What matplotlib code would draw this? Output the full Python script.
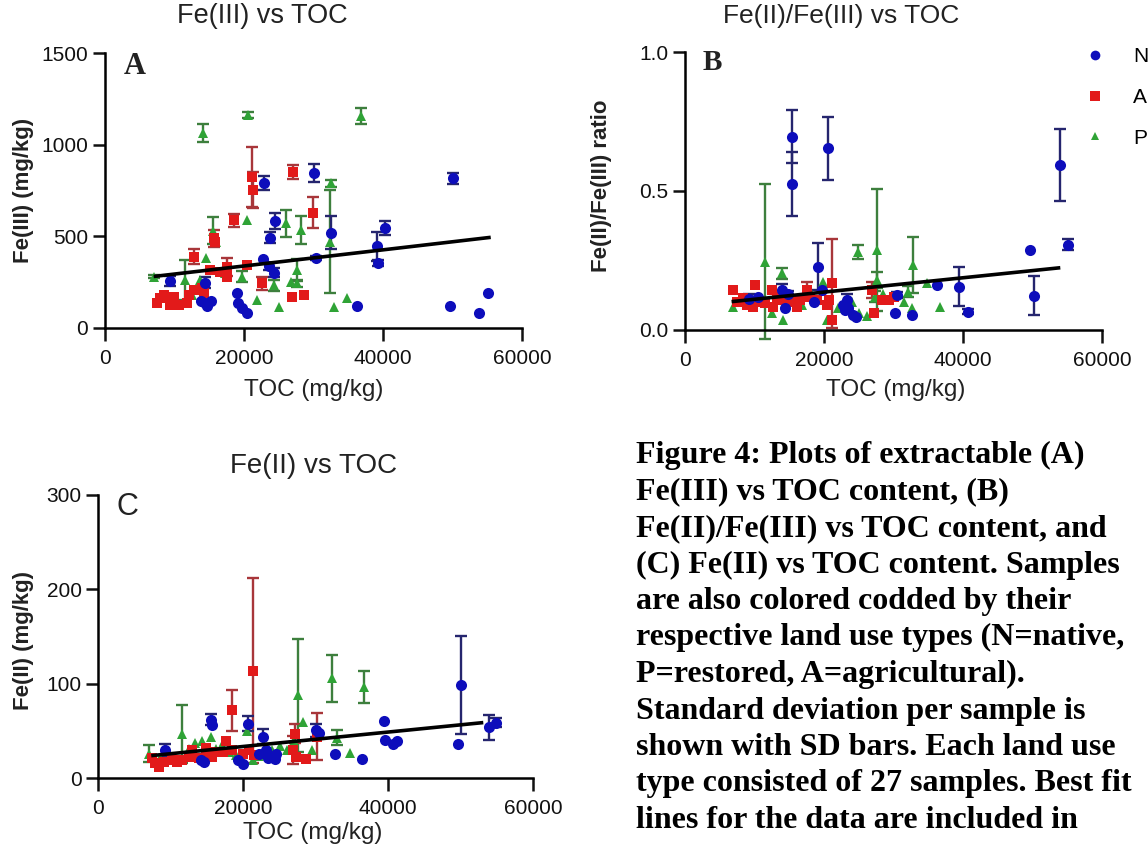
import numpy as np
import matplotlib
matplotlib.use("Agg")
import matplotlib.pyplot as plt
from matplotlib.lines import Line2D
from matplotlib.ticker import FormatStrFormatter

plt.rcParams['font.family'] = ['Liberation Sans', 'DejaVu Sans']

# ---------------- data ----------------
# Panel A : Fe(III) (mg/kg) vs TOC
A_N_toc = [9330, 14400, 13870, 14400, 15200, 14670, 18930, 19200, 19730, 20430, 22930, 23730, 24430, 22670,
           23630, 24270, 30130, 30400, 32530, 36260, 39200, 39300, 40270, 50130, 49600, 53860, 55090]
A_N_val = [255, 245, 145, 136, 145, 118, 191, 136, 109, 82, 791, 491, 582, 373,
           336, 300, 845, 382, 518, 118, 445, 355, 545, 818, 118, 82, 191]
A_N_sd = [25, 30, 0, 0, 0, 0, 0, 0, 0, 0, 40, 30, 45, 0,
          20, 25, 50, 10, 90, 0, 80, 15, 40, 30, 0, 0, 0]

A_A_toc = [7460, 8420, 9860, 10590, 12030, 12750, 12750, 15640, 15880, 15160, 17570, 17570, 18530, 20460,
           21180, 21330, 22630, 26960, 28630, 27100, 29990, 13960, 9390, 11800, 14200, 16600, 7900]
A_A_val = [133, 179, 170, 124, 179, 206, 388, 488, 470, 315, 333, 279, 588, 343,
           825, 752, 243, 170, 179, 852, 628, 215, 124, 133, 188, 306, 160]
A_A_sd = [0, 0, 0, 0, 0, 0, 40, 45, 0, 0, 50, 0, 35, 0,
          164, 100, 35, 0, 0, 40, 85, 0, 0, 0, 0, 0, 0]

A_P_toc = [6980, 11550, 11800, 14030, 14590, 15600, 20460, 20530, 25990, 28160, 32490, 32400, 19740, 21900,
           25030, 32970, 26710, 27680, 27680, 24300, 13720, 34830, 36800, 16000, 12500, 17200, 14200]
A_P_val = [279, 261, 152, 1064, 379, 530, 588, 1163, 570, 534, 789, 470, 279, 151,
           115, 115, 251, 315, 243, 233, 261, 164, 1158, 470, 180, 300, 200]
A_P_sd = [10, 110, 0, 50, 0, 75, 0, 15, 75, 75, 20, 282, 30, 0,
          0, 0, 0, 60, 20, 30, 0, 0, 45, 0, 0, 0, 0]

A_fit_x = [7000, 55500]
A_fit_y = [280, 494]

# Panel B : Fe(II)/Fe(III) ratio vs TOC
B_N_toc = [15440, 15350, 20530, 19090, 39400, 40780, 53960, 49640, 55060, 50260, 36300, 30460, 30220, 32620,
           23270, 23510, 24220, 23030, 9200, 14390, 13910, 19670, 24600, 22700, 10500, 14800, 18500]
B_N_val = [0.695, 0.525, 0.653, 0.228, 0.156, 0.066, 0.594, 0.288, 0.306, 0.123, 0.162, 0.126, 0.060, 0.054,
           0.108, 0.078, 0.054, 0.072, 0.110, 0.078, 0.144, 0.144, 0.045, 0.090, 0.120, 0.130, 0.100]
B_N_sd = [0.095, 0.115, 0.113, 0.085, 0.07, 0.01, 0.13, 0, 0.02, 0.07, 0, 0.01, 0, 0,
          0.02, 0, 0, 0, 0.02, 0, 0.02, 0, 0, 0, 0, 0.01, 0]

B_A_toc = [6950, 7430, 8400, 9840, 10130, 10560, 12490, 12730, 13210, 15130, 16090, 17530, 18010, 18970,
           20410, 21130, 21130, 20650, 26890, 27130, 28330, 29290, 30000, 11530, 13930, 8880, 16570]
B_A_val = [0.144, 0.102, 0.114, 0.084, 0.162, 0.102, 0.144, 0.084, 0.120, 0.102, 0.084, 0.144, 0.120, 0.108,
           0.090, 0.168, 0.036, 0.108, 0.144, 0.060, 0.108, 0.108, 0.120, 0.096, 0.108, 0.090, 0.108]
B_A_sd = [0, 0, 0, 0, 0, 0, 0, 0, 0, 0, 0, 0.03, 0, 0,
          0, 0.16, 0, 0, 0.03, 0, 0, 0, 0, 0, 0, 0, 0]

B_P_toc = [11510, 24850, 27580, 32860, 32140, 34780, 36700, 32620, 27580, 14150, 20390, 13910, 6950, 26140,
           19860, 11400, 27400, 15000, 22000, 25000, 16800, 9500, 31500, 18000, 12500, 28500, 24000]
B_P_val = [0.246, 0.282, 0.288, 0.234, 0.138, 0.168, 0.082, 0.078, 0.180, 0.036, 0.036, 0.204, 0.084, 0.050,
           0.174, 0.100, 0.120, 0.120, 0.080, 0.060, 0.090, 0.100, 0.100, 0.140, 0.060, 0.130, 0.100]
B_P_sd = [0.28, 0.025, 0.22, 0.10, 0.02, 0, 0, 0, 0.03, 0, 0, 0.02, 0, 0,
          0, 0, 0.02, 0, 0, 0, 0, 0, 0, 0, 0, 0, 0]

B_fit_x = [6700, 54000]
B_fit_y = [0.102, 0.224]

# Panel C : Fe(II) (mg/kg) vs TOC
C_N_toc = [9260, 15510, 15650, 14120, 14580, 19220, 19920, 20610, 22690, 23150, 23850, 24540, 30090, 32610,
           36350, 39420, 39530, 40650, 41160, 50020, 49670, 53860, 54890, 22120, 23400, 24420, 30500]
C_N_val = [30, 62, 56, 19, 17.5, 19, 15, 58, 44, 30, 23, 26, 51, 26,
           20, 61, 41, 36, 40, 99, 36, 54, 59, 26, 22, 20, 48]
C_N_sd = [6, 6, 0, 0, 0, 0, 0, 8, 8, 0, 0, 0, 7, 0,
          0, 0, 0, 0, 0, 52, 0, 13, 5, 0, 0, 0, 0]

C_A_toc = [21300, 18430, 7870, 7410, 10190, 10890, 12500, 12970, 14820, 16200, 17600, 17140, 20830, 21530,
           27080, 26860, 27320, 28710, 30100, 15750, 13890, 11580, 9030, 8400, 19920, 14820, 18450]
C_A_val = [114, 72, 16, 21, 19, 17.5, 23, 30, 26, 28, 39, 28, 30, 25,
           47, 30, 23, 20, 44, 23, 21, 19, 17.5, 12, 26, 32, 30]
C_A_sd = [98, 22, 0, 0, 0, 0, 0, 0, 0, 0, 0, 0, 0, 0,
          10, 15, 0, 0, 25, 0, 0, 0, 0, 0, 0, 0, 0]

C_P_toc = [6940, 11580, 27550, 28240, 32200, 36710, 32870, 34660, 15510, 14350, 13400, 12500, 16200, 22220,
           21300, 25000, 26000, 27000, 18000, 20500, 10000, 19000, 24000, 8500, 17000, 29500, 23000]
C_P_val = [26, 47, 88, 60, 106, 97, 43, 27, 44, 40, 37, 31, 31, 24,
           19, 34, 30, 40, 28, 50, 22, 25, 30, 22, 35, 30, 28]
C_P_sd = [9, 31, 60, 0, 25, 17, 8, 0, 0, 0, 0, 0, 0, 0,
          0, 0, 0, 0, 0, 0, 0, 0, 0, 0, 0, 0, 0]

C_fit_x = [7300, 53100]
C_fit_y = [24, 59]

caption_lines = [
    "Figure 4: Plots of extractable (A)",
    "Fe(III) vs TOC content, (B)",
    "Fe(II)/Fe(III) vs TOC content, and",
    "(C) Fe(II) vs TOC content. Samples",
    "are also colored codded by their",
    "respective land use types (N=native,",
    "P=restored, A=agricultural).",
    "Standard deviation per sample is",
    "shown with SD bars. Each land use",
    "type consisted of 27 samples. Best fit",
    "lines for the data are included in",
]

# ---------------- style ----------------
W, H = 1148, 852
fig = plt.figure(figsize=(W / 100, H / 100), dpi=100)


def rect(l, r, t, b):
    return [l / W, 1 - b / H, (r - l) / W, (b - t) / H]


def fx(x):
    return x / W


def fy(y):
    return 1 - y / H


COL = {'N': '#0d0dbb', 'A': '#e21a1a', 'P': '#2fa336'}
ECOL = {'N': '#25256e', 'A': '#a8363a', 'P': '#3d7f3d'}
MRK = {'N': ('o', 8.0), 'A': ('s', 7.5), 'P': ('^', 6.5)}


def draw(ax, key, xs, ys, es):
    xs, ys, es = np.asarray(xs, float), np.asarray(ys, float), np.asarray(es, float)
    m = es > 0
    ax.errorbar(xs[m], ys[m], yerr=es[m], fmt='none', ecolor=ECOL[key], elinewidth=1.7,
                capsize=4, capthick=1.7, zorder=2, clip_on=False)
    mk, ms = MRK[key]
    ax.plot(xs, ys, linestyle='none', marker=mk, color=COL[key], markersize=ms,
            markeredgewidth=0, zorder=3, clip_on=False)


def style(ax, ymax, yticks):
    ax.set_xlim(0, 60000)
    ax.set_ylim(0, ymax)
    ax.set_xticks([0, 20000, 40000, 60000])
    ax.set_yticks(yticks)
    for s in ['top', 'right']:
        ax.spines[s].set_visible(False)
    for s in ['left', 'bottom']:
        ax.spines[s].set_linewidth(1.8)
    ax.tick_params(width=1.8, length=9, labelsize=15, colors='#111111')
    ax.tick_params(axis='x', pad=6)
    ax.tick_params(axis='y', pad=3)
    ax.patch.set_alpha(0)


axA = fig.add_axes(rect(105, 522, 53.3, 327.7))
axB = fig.add_axes(rect(685, 1102, 52, 330))
axC = fig.add_axes(rect(98.3, 533.3, 495, 778.3))

for key, (x, y, e) in {'P': (A_P_toc, A_P_val, A_P_sd), 'A': (A_A_toc, A_A_val, A_A_sd),
                       'N': (A_N_toc, A_N_val, A_N_sd)}.items():
    draw(axA, key, x, y, e)
axA.plot(A_fit_x, A_fit_y, color='black', lw=2.6, zorder=5, solid_capstyle='butt')
style(axA, 1500, [0, 500, 1000, 1500])

for key, (x, y, e) in {'P': (B_P_toc, B_P_val, B_P_sd), 'A': (B_A_toc, B_A_val, B_A_sd),
                       'N': (B_N_toc, B_N_val, B_N_sd)}.items():
    draw(axB, key, x, y, e)
axB.plot(B_fit_x, B_fit_y, color='black', lw=2.6, zorder=5, solid_capstyle='butt')
style(axB, 1.0, [0.0, 0.5, 1.0])
axB.yaxis.set_major_formatter(FormatStrFormatter('%.1f'))

for key, (x, y, e) in {'P': (C_P_toc, C_P_val, C_P_sd), 'A': (C_A_toc, C_A_val, C_A_sd),
                       'N': (C_N_toc, C_N_val, C_N_sd)}.items():
    draw(axC, key, x, y, e)
axC.plot(C_fit_x, C_fit_y, color='black', lw=2.6, zorder=5, solid_capstyle='butt')
style(axC, 300, [0, 100, 200, 300])

# titles, labels
fig.text(fx(262), fy(16), "Fe(III) vs TOC", ha='center', va='center', fontsize=19.5, color='#222222')
fig.text(fx(841), fy(16), "Fe(II)/Fe(III) vs TOC", ha='center', va='center', fontsize=19, color='#222222')
fig.text(fx(314), fy(466), "Fe(II) vs TOC", ha='center', va='center', fontsize=20, color='#222222')

fig.text(fx(314), fy(390), "TOC (mg/kg)", ha='center', va='center', fontsize=17.5, color='#222222')
fig.text(fx(896), fy(390), "TOC (mg/kg)", ha='center', va='center', fontsize=17.5, color='#222222')
fig.text(fx(313), fy(833), "TOC (mg/kg)", ha='center', va='center', fontsize=17.5, color='#222222')

fig.text(fx(24), fy(190), "Fe(III) (mg/kg)", ha='center', va='center', rotation=90,
         fontsize=16, fontweight='bold', color='#222222')
fig.text(fx(602), fy(186), "Fe(II)/Fe(III) ratio", ha='center', va='center', rotation=90,
         fontsize=16, fontweight='bold', color='#222222')
fig.text(fx(24), fy(640), "Fe(II) (mg/kg)", ha='center', va='center', rotation=90,
         fontsize=16, fontweight='bold', color='#222222')

fig.text(fx(135), fy(66), "A", ha='center', va='center', fontsize=22, fontweight='bold',
         family=['Liberation Serif', 'DejaVu Serif'], color='#222222')
fig.text(fx(712), fy(63), "B", ha='center', va='center', fontsize=21, fontweight='bold',
         family=['Liberation Serif', 'DejaVu Serif'], color='#222222')
fig.text(fx(127), fy(507), "C", ha='center', va='center', fontsize=22, color='#222222')

# legend
handles = [Line2D([], [], linestyle='none', marker=MRK[k][0], markersize=MRK[k][1] - 1,
                  color=COL[k], markeredgewidth=0) for k in ['N', 'A', 'P']]
fig.legend(handles, ['N', 'A', 'P'], loc='upper left', bbox_to_anchor=(fx(1085), fy(47)),
           frameon=False, fontsize=15, handlelength=1.0, handletextpad=1.3,
           labelspacing=1.05, borderpad=0, borderaxespad=0)

# caption
for i, line in enumerate(caption_lines):
    fig.text(fx(636), fy(463 + 36.5 * i), line, ha='left', va='baseline', fontsize=23,
             fontweight='bold', family=['Liberation Serif', 'DejaVu Serif'], color='black')

fig.savefig("out.png", dpi=100)
